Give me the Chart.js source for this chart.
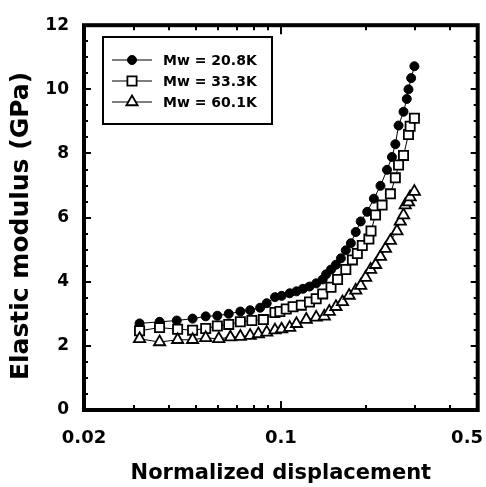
<!DOCTYPE html>
<html>
<head>
<meta charset="utf-8">
<script src="https://cdn.jsdelivr.net/npm/chart.js@4.4.0/dist/chart.umd.min.js"></script>
<style>
  html, body { margin: 0; padding: 0; background: #fff; }
  #wrap { width: 486px; height: 487px; }
</style>
</head>
<body>
<div id="wrap"><canvas id="chart" width="486" height="487"></canvas></div>
<script>
// series labels
var seriesNames = ["Mw = 20.8K", "Mw = 33.3K", "Mw = 60.1K"];

// Mw = 20.8K (filled circles)
var xCircle = [0.0315, 0.0371, 0.0427, 0.0486, 0.0541, 0.0595, 0.0653, 0.0718, 0.0778, 0.0844, 0.0891, 0.0953, 0.1006, 0.1075, 0.1136, 0.1198, 0.1264, 0.1335, 0.1408, 0.1447, 0.1507, 0.1569, 0.1634, 0.1701, 0.1772, 0.1845, 0.1921, 0.2026, 0.2139, 0.2258, 0.2382, 0.2480, 0.2550, 0.2618, 0.2726, 0.2800, 0.2839, 0.2902, 0.2980];
var yCircle = [2.70, 2.75, 2.79, 2.85, 2.92, 2.94, 3.00, 3.07, 3.11, 3.19, 3.33, 3.52, 3.56, 3.64, 3.70, 3.78, 3.85, 3.95, 4.07, 4.23, 4.38, 4.53, 4.73, 4.98, 5.20, 5.55, 5.88, 6.18, 6.59, 6.99, 7.49, 7.89, 8.29, 8.87, 9.30, 9.70, 10.00, 10.35, 10.72];

// Mw = 33.3K (open squares)
var xSquare = [0.0315, 0.0371, 0.0430, 0.0486, 0.0541, 0.0595, 0.0653, 0.0718, 0.0789, 0.0867, 0.0953, 0.0992, 0.1045, 0.1105, 0.1182, 0.1264, 0.1335, 0.1408, 0.1507, 0.1590, 0.1701, 0.1795, 0.1869, 0.1946, 0.2054, 0.2090, 0.2169, 0.2288, 0.2449, 0.2550, 0.2618, 0.2726, 0.2839, 0.2878, 0.2980];
var ySquare = [2.47, 2.57, 2.52, 2.49, 2.54, 2.62, 2.67, 2.75, 2.79, 2.82, 3.04, 3.07, 3.15, 3.22, 3.27, 3.37, 3.47, 3.62, 3.83, 4.07, 4.38, 4.68, 4.88, 5.13, 5.33, 5.58, 6.08, 6.39, 6.74, 7.24, 7.64, 7.94, 8.59, 8.85, 9.10];

// Mw = 60.1K (open triangles)
var xTriangle = [0.0315, 0.0371, 0.0430, 0.0486, 0.0541, 0.0602, 0.0662, 0.0718, 0.0778, 0.0832, 0.0891, 0.0953, 0.1006, 0.1075, 0.1136, 0.1231, 0.1335, 0.1427, 0.1486, 0.1569, 0.1655, 0.1748, 0.1845, 0.1921, 0.2000, 0.2083, 0.2170, 0.2258, 0.2351, 0.2449, 0.2583, 0.2655, 0.2726, 0.2764, 0.2839, 0.2878, 0.2980];
var yTriangle = [2.22, 2.12, 2.19, 2.19, 2.25, 2.22, 2.27, 2.29, 2.32, 2.37, 2.42, 2.49, 2.52, 2.57, 2.69, 2.82, 2.89, 2.92, 3.07, 3.22, 3.37, 3.57, 3.73, 3.88, 4.13, 4.38, 4.53, 4.78, 5.03, 5.28, 5.58, 5.88, 6.08, 6.39, 6.48, 6.64, 6.81];

// axis ticks
var xTickLabels = [0.02, 0.1, 0.5];
var xMinorTicks = [0.03, 0.04, 0.05, 0.06, 0.07, 0.08, 0.09, 0.2, 0.3, 0.4];
var yTickValues = [0, 2, 4, 6, 8, 10, 12];

var FONT = "'DejaVu Sans', 'Liberation Sans', Arial, sans-serif";

function pts(xs, ys) {
  return xs.map((x, i) => ({ x: x, y: ys[i] }));
}

// drawPoint uses the current fill/stroke, so set them before each legend marker
function legendMarker(ctx, ds, x, y) {
  ctx.save();
  ctx.fillStyle = ds.pointBackgroundColor;
  ctx.strokeStyle = "#000";
  ctx.lineWidth = ds.pointBorderWidth;
  Chart.helpers.drawPoint(ctx, { pointStyle: ds.pointStyle, radius: ds.pointRadius, borderWidth: ds.pointBorderWidth }, x, y);
  ctx.restore();
}

// ticks pointing inward on all four sides, thick frame, x labels, y title and legend
var framePlugin = {
  id: "frame",
  afterDraw(chart) {
    var ctx = chart.ctx;
    var a = chart.chartArea;
    var xs = chart.scales.x, ys = chart.scales.y;
    ctx.save();
    ctx.strokeStyle = "#000";
    ctx.lineWidth = 2;
    ctx.beginPath();
    for (var v = 0.5; v < 12; v += 0.5) {
      var py = Math.round(ys.getPixelForValue(v));
      var len = v % 2 === 0 ? 7 : 4;
      ctx.moveTo(a.left, py); ctx.lineTo(a.left + len, py);
      ctx.moveTo(a.right, py); ctx.lineTo(a.right - len, py);
    }
    xMinorTicks.concat([0.1]).forEach((t) => {
      var px = Math.round(xs.getPixelForValue(t));
      var len = t === 0.1 ? 9 : 5;
      ctx.moveTo(px, a.bottom); ctx.lineTo(px, a.bottom - len);
      ctx.moveTo(px, a.top); ctx.lineTo(px, a.top + len);
    });
    ctx.stroke();

    ctx.lineWidth = 4;
    ctx.strokeRect(a.left, a.top, a.right - a.left, a.bottom - a.top);

    // x tick labels
    ctx.fillStyle = "#000";
    ctx.font = "bold 18px " + FONT;
    ctx.textAlign = "center";
    ctx.textBaseline = "alphabetic";
    xTickLabels.forEach((t) => {
      var s = String(t);
      var w = ctx.measureText(s).width;
      var px = xs.getPixelForValue(t);
      px = Math.min(px, chart.width - 3 - w / 2);
      ctx.fillText(s, px, 443);
    });

    // y title
    ctx.save();
    ctx.translate(21, 226);
    ctx.rotate(-Math.PI / 2);
    ctx.font = "bold 25px " + FONT;
    ctx.textBaseline = "middle";
    ctx.fillText("Elastic modulus (GPa)", 0, 0);
    ctx.restore();

    // legend
    var bx = 103, by = 37, bw = 169, bh = 87;
    ctx.fillStyle = "#fff";
    ctx.fillRect(bx, by, bw, bh);
    ctx.lineWidth = 2;
    ctx.strokeStyle = "#000";
    ctx.strokeRect(bx, by, bw, bh);
    chart.data.datasets.forEach((ds, i) => {
      var ry = 60 + i * 21;
      ctx.lineWidth = 1.2;
      ctx.strokeStyle = "#000";
      ctx.beginPath();
      ctx.moveTo(112, ry); ctx.lineTo(152, ry);
      ctx.stroke();
      legendMarker(ctx, ds, 132, ry);
      ctx.fillStyle = "#000";
      ctx.font = "bold 14px " + FONT;
      ctx.textAlign = "left";
      ctx.textBaseline = "middle";
      ctx.fillText(ds.label, 163, ry + 1);
    });
    ctx.restore();
  }
};

var ctx = document.getElementById("chart").getContext("2d");

var chart = new Chart(ctx, {
  type: "scatter",
  data: {
    datasets: [
      {
        label: seriesNames[0],
        data: pts(xCircle, yCircle),
        showLine: true,
        borderColor: "#000",
        borderWidth: 1,
        pointStyle: "circle",
        pointRadius: 4.5,
        pointBorderWidth: 1,
        pointBackgroundColor: "#000",
        pointBorderColor: "#000",
        order: 3
      },
      {
        label: seriesNames[1],
        data: pts(xSquare, ySquare),
        showLine: true,
        borderColor: "#000",
        borderWidth: 1,
        pointStyle: "rect",
        pointRadius: 6.5,
        pointBorderWidth: 1.8,
        pointBackgroundColor: "#fff",
        pointBorderColor: "#000",
        order: 2
      },
      {
        label: seriesNames[2],
        data: pts(xTriangle, yTriangle),
        showLine: true,
        borderColor: "#000",
        borderWidth: 1,
        pointStyle: "triangle",
        pointRadius: 6.5,
        pointBorderWidth: 1.8,
        pointBackgroundColor: "#fff",
        pointBorderColor: "#000",
        order: 1
      }
    ]
  },
  options: {
    responsive: false,
    animation: false,
    layout: { padding: { top: 15, right: 8, left: 0, bottom: 0 } },
    plugins: { legend: { display: false }, tooltip: { enabled: false } },
    scales: {
      x: {
        type: "logarithmic",
        min: 0.02,
        max: 0.5,
        grid: { display: false, drawTicks: false },
        border: { display: false },
        ticks: { display: false },
        title: {
          display: true,
          text: "Normalized displacement",
          color: "#000",
          font: { family: FONT, size: 21, weight: "bold" },
          padding: { top: 0, bottom: 1 }
        },
        afterFit(scale) { scale.height = 77; }
      },
      y: {
        min: 0,
        max: 12,
        afterBuildTicks(scale) { scale.ticks = yTickValues.map((v) => ({ value: v })); },
        grid: { display: false, drawTicks: false },
        border: { display: false },
        ticks: {
          color: "#000",
          padding: 15,
          font: { family: FONT, size: 17, weight: "bold" }
        },
        afterFit(scale) { scale.width = 84; }
      }
    }
  },
  plugins: [framePlugin]
});
</script>
</body>
</html>
